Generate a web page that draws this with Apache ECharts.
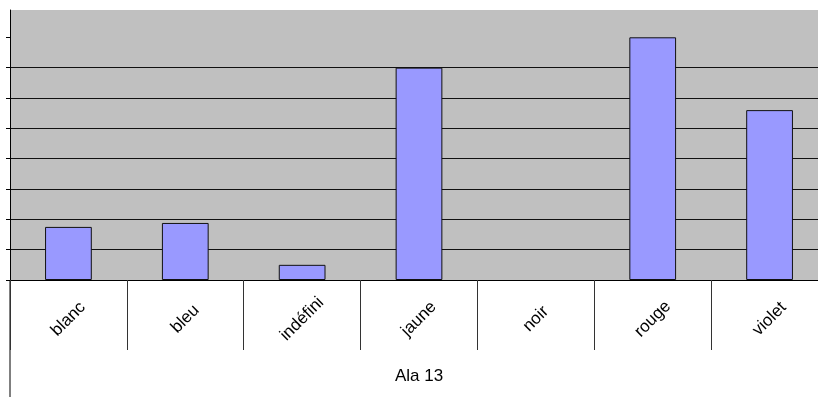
<!DOCTYPE html>
<html>
<head>
<meta charset="utf-8">
<script src="https://cdn.jsdelivr.net/npm/echarts@6/dist/echarts.min.js"></script>
<style>html,body{margin:0;padding:0;background:#fff;overflow:hidden;width:818px;height:397px;}#c{width:828px;height:397px;}</style>
</head>
<body>
<div id="c"></div>
<script>
const categories = ['blanc', 'bleu', 'indéfini', 'jaune', 'noir', 'rouge', 'violet'];
const values = [1.75, 1.88, 0.5, 7, 0, 8, 5.6];
const yTicks = [0, 1, 2, 3, 4, 5, 6, 7, 8];
const axisTitle = 'Ala 13';
const yMax = 8.9;

const chart = echarts.init(document.getElementById('c'), null, {renderer: 'canvas'});
chart.setOption({
  animation: false,
  backgroundColor: '#ffffff',
  textStyle: {fontFamily: 'Liberation Sans, Arial, sans-serif'},
  grid: {left: 10, right: 0, top: 10, bottom: 117, show: true, backgroundColor: '#c0c0c0', borderWidth: 0},
  xAxis: {
    type: 'category',
    data: categories,
    boundaryGap: true,
    name: axisTitle,
    nameLocation: 'middle',
    nameGap: 88,
    nameTextStyle: {color: '#000', fontSize: 17, fontFamily: 'Liberation Sans, Arial, sans-serif'},
    axisLine: {show: true, lineStyle: {color: '#000', width: 1}},
    axisTick: {show: true, interval: 0, length: 70, lineStyle: {color: '#333', width: 1}},
    axisLabel: {interval: 0, rotate: 45, align: 'center', verticalAlign: 'middle', margin: 39,
      color: '#000', fontSize: 17, fontFamily: 'Liberation Sans, Arial, sans-serif'},
    splitLine: {show: false}
  },
  yAxis: {
    type: 'value',
    min: 0,
    max: yMax,
    interval: 1,
    axisLine: {show: true, lineStyle: {color: '#000', width: 1}},
    axisTick: {show: true, length: 4, customValues: yTicks, lineStyle: {color: '#000'}},
    axisLabel: {show: false},
    splitLine: {show: true, showMaxLine: false, lineStyle: {color: '#111', width: 1}}
  },
  series: [{
    type: 'bar',
    data: values.map(v => v === 0 ? {value: v, itemStyle: {borderWidth: 0}} : v),
    barCategoryGap: '60%',
    itemStyle: {color: '#9999ff', borderColor: '#111', borderWidth: 1}
  }],
  graphic: [{
    type: 'line',
    shape: {x1: 10, y1: 280, x2: 10, y2: 397},
    style: {stroke: '#000', lineWidth: 1},
    silent: true
  }]
});
</script>
</body>
</html>
